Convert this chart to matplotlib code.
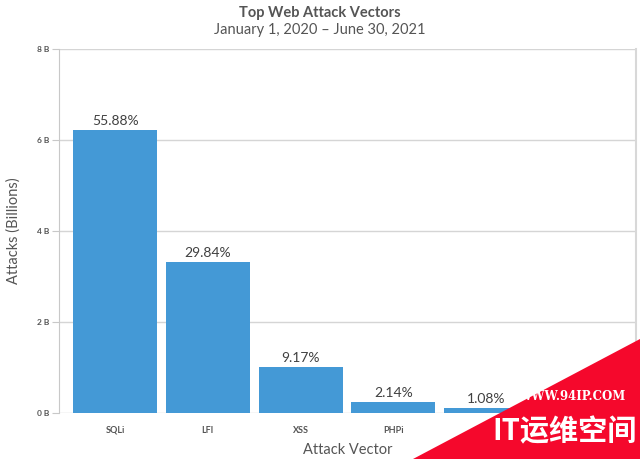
import matplotlib
matplotlib.use("Agg")
import matplotlib.pyplot as plt
from matplotlib.patches import Polygon

# data (billions of attacks)
vectors = ["SQLi", "LFI", "XSS", "PHPi", "JAVA"]
attacks = [6.22, 3.32, 1.02, 0.24, 0.12]
shares = ["55.88%", "29.84%", "9.17%", "2.14%", "1.08%"]
yticks = [0, 2, 4, 6, 8]
ytick_labels = ["0 B", "2 B", "4 B", "6 B", "8 B"]

plt.rcParams['font.family'] = ['Lato', 'DejaVu Sans']

fig = plt.figure(figsize=(6.4, 4.59), dpi=100)
ax = fig.add_axes([0.0922, 0.1002, 0.9016, 0.793])

bar_color = "#4499d6"
bars = ax.bar(range(len(vectors)), attacks, width=0.905, color=bar_color, zorder=3)

for b, s in zip(bars, shares):
    ax.annotate(s, (b.get_x() + b.get_width() / 2, b.get_height()),
                xytext=(0, 2), textcoords="offset points",
                ha="center", va="bottom", fontsize=10, color="#404040")

ax.set_xlim(-0.604, 5.617)
ax.set_ylim(0, 8)
ax.set_yticks(yticks)
ax.set_yticklabels(ytick_labels, fontsize=6, fontweight="bold", color="#555555")
ax.set_xticks(range(len(vectors)))
ax.set_xticklabels(vectors, fontsize=6.5, fontweight="bold", color="#555555")
# last category label sits under the watermark corner
ax.get_xticklabels()[-1].set_visible(False)
ax.tick_params(axis="x", length=0, pad=9)
ax.tick_params(axis="y", length=5, width=0.8, color="#c8c8c8", pad=2)

ax.grid(axis="y", color="#d5d5d5", linewidth=1, zorder=0)
for side in ["top", "bottom"]:
    ax.spines[side].set_visible(False)
ax.spines["left"].set_color("#c8c8c8")
ax.spines["right"].set_color("#d8d8d8")
ax.spines["right"].set_linewidth(1.5)

ax.set_xlabel("Attack Vector", fontsize=10.5, color="#555555", labelpad=6)
ax.set_ylabel("Attacks (Billions)", fontsize=10.5, color="#555555", labelpad=12)

fig.text(0.5, 0.972, "Top Web Attack Vectors", ha="center", va="center",
         fontsize=10.5, fontweight="bold", color="#555555")
fig.text(0.5, 0.935, "January 1, 2020 \u2013 June 30, 2021", ha="center", va="center",
         fontsize=10.5, color="#555555")

# watermark corner
W, H = 640, 459
tri = Polygon([(413 / W, 0), (1, (459 - 339) / H), (1, 0)], closed=True,
              transform=fig.transFigure, facecolor="#f5082c", edgecolor="none", zorder=10)
fig.patches.append(tri)
fig.text(572 / W, 1 - 397 / H, "WWW.94IP.COM", ha="center", va="center",
         fontsize=8.5, fontweight="bold", color="white", family=["DejaVu Serif"], zorder=11)
fig.text(565 / W, 1 - 431 / H, "IT运维空间", ha="center", va="center",
         fontsize=21, fontweight="bold", color="white",
         family=["Noto Sans CJK SC", "DejaVu Sans"], zorder=11)

fig.savefig("out.png", dpi=100)
